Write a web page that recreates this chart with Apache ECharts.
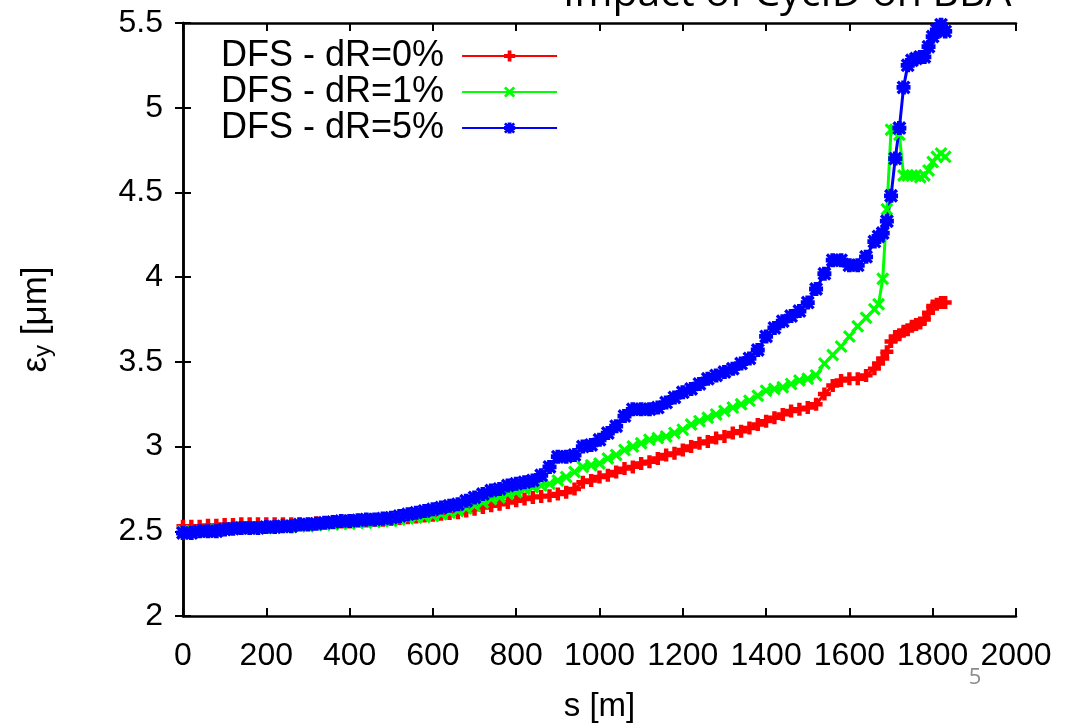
<!DOCTYPE html>
<html>
<head>
<meta charset="utf-8">
<script src="https://cdn.jsdelivr.net/npm/echarts@6/dist/echarts.min.js"></script>
<style>
html, body { margin: 0; padding: 0; background: #fff; }
#chart { width: 1073px; height: 728px; }
</style>
</head>
<body>
<div id="chart"></div>
<script>
// positions along the linac [m]
var sPos = [0, 20, 40, 60, 80, 100, 120, 140, 160, 180,
	200, 220, 240, 260, 280, 300, 320, 340, 360, 380,
	400, 420, 440, 460, 480, 500, 520, 540, 560, 580,
	600, 620, 640, 660, 680, 700, 720, 740, 760, 780,
	800, 820, 840, 860, 880, 900, 920, 940, 960, 980,
	1000, 1020, 1040, 1060, 1080, 1100, 1120, 1140, 1160, 1180,
	1200, 1220, 1240, 1260, 1280, 1300, 1320, 1340, 1360, 1380,
	1400, 1420, 1440, 1460, 1480, 1500, 1520, 1540, 1560, 1580,
	1600, 1620, 1640, 1660, 1670, 1680, 1690, 1700, 1710, 1720,
	1730, 1740, 1750, 1760, 1770, 1780, 1790, 1800, 1810, 1820, 1830];

// DFS - dR=0%
var emitR0 = [2.53, 2.53, 2.53, 2.535, 2.535, 2.54, 2.54, 2.545, 2.545, 2.545,
	2.545, 2.545, 2.545, 2.545, 2.545, 2.545, 2.55, 2.55, 2.55, 2.555,
	2.555, 2.56, 2.56, 2.565, 2.565, 2.57, 2.575, 2.58, 2.585, 2.59,
	2.595, 2.60, 2.605, 2.61, 2.62, 2.63, 2.64, 2.65, 2.66, 2.67,
	2.68, 2.69, 2.70, 2.705, 2.71, 2.72, 2.73, 2.75, 2.79, 2.80,
	2.82, 2.83, 2.85, 2.87, 2.88, 2.90, 2.91, 2.93, 2.95, 2.96,
	2.98, 3.00, 3.02, 3.03, 3.05, 3.06, 3.08, 3.09, 3.11, 3.13,
	3.15, 3.17, 3.19, 3.21, 3.22, 3.23, 3.25, 3.31, 3.36, 3.39,
	3.40, 3.40, 3.42, 3.46, 3.49, 3.52, 3.56, 3.62, 3.65, 3.66,
	3.68, 3.69, 3.71, 3.72, 3.73, 3.75, 3.79, 3.83, 3.84, 3.85, 3.85];

// DFS - dR=1%
var emitR1 = [2.50, 2.50, 2.50, 2.505, 2.51, 2.51, 2.515, 2.52, 2.52, 2.52,
	2.52, 2.52, 2.525, 2.525, 2.53, 2.53, 2.535, 2.54, 2.54, 2.545,
	2.545, 2.55, 2.55, 2.555, 2.56, 2.56, 2.57, 2.575, 2.58, 2.585,
	2.59, 2.60, 2.61, 2.62, 2.635, 2.65, 2.67, 2.69, 2.70, 2.72,
	2.73, 2.75, 2.76, 2.77, 2.78, 2.80, 2.82, 2.85, 2.88, 2.89,
	2.90, 2.93, 2.95, 2.98, 3.00, 3.02, 3.04, 3.05, 3.06, 3.08,
	3.10, 3.13, 3.15, 3.17, 3.19, 3.21, 3.23, 3.25, 3.27, 3.30,
	3.33, 3.34, 3.35, 3.37, 3.39, 3.40, 3.42, 3.49, 3.54, 3.59,
	3.65, 3.71, 3.76, 3.81, 3.84, 3.99, 4.40, 4.87, 4.87, 4.84,
	4.60, 4.60, 4.60, 4.60, 4.59, 4.60, 4.63, 4.68, 4.71, 4.73, 4.71];

// DFS - dR=5%
var emitR5 = [2.49, 2.49, 2.50, 2.50, 2.50, 2.51, 2.515, 2.52, 2.52, 2.52,
	2.525, 2.525, 2.53, 2.53, 2.54, 2.54, 2.545, 2.55, 2.555, 2.56,
	2.56, 2.565, 2.57, 2.57, 2.575, 2.58, 2.59, 2.60, 2.61, 2.62,
	2.63, 2.64, 2.65, 2.66, 2.68, 2.70, 2.72, 2.74, 2.75, 2.77,
	2.78, 2.79, 2.80, 2.83, 2.88, 2.94, 2.94, 2.95, 3.00, 3.01,
	3.04, 3.08, 3.12, 3.18, 3.22, 3.22, 3.22, 3.23, 3.26, 3.29,
	3.32, 3.34, 3.37, 3.40, 3.42, 3.44, 3.46, 3.49, 3.52, 3.57,
	3.65, 3.70, 3.74, 3.77, 3.80, 3.85, 3.93, 4.02, 4.10, 4.10,
	4.07, 4.07, 4.12, 4.21, 4.24, 4.26, 4.33, 4.48, 4.70, 4.88,
	5.12, 5.25, 5.28, 5.29, 5.30, 5.30, 5.36, 5.42, 5.46, 5.49, 5.45];

var seriesNames = ['DFS - dR=0%', 'DFS - dR=1%', 'DFS - dR=5%'];
var xTicks = [0, 2000, 200];
var yTicks = [2, 5.5, 0.5];

// gnuplot style point shapes
var PLUS = 'path://M3.3,0H6.7V3.3H10V6.7H6.7V10H3.3V6.7H0V3.3H3.3Z';
var CROSS = 'path://M0,1.7L1.7,0L5,3.3L8.3,0L10,1.7L6.7,5L10,8.3L8.3,10L5,6.7L1.7,10L0,8.3L3.3,5Z';
var STAR = 'path://M3.3,0H6.7V3.3H10V6.7H6.7V10H3.3V6.7H0V3.3H3.3Z' +
	'M0,1.7L1.7,0L5,3.3L8.3,0L10,1.7L6.7,5L10,8.3L8.3,10L5,6.7L1.7,10L0,8.3L3.3,5Z';

function pairs(ys) {
	var out = [];
	for (var i = 0; i < sPos.length; i++) {
		out.push([sPos[i], ys[i]]);
	}
	return out;
}

function makeSeries(name, ys, color, symbol, size) {
	return {
		name: name,
		type: 'line',
		data: pairs(ys),
		symbol: symbol,
		symbolSize: size,
		showAllSymbol: true,
		animation: false,
		lineStyle: { color: color, width: 3 },
		itemStyle: { color: color, borderWidth: 0 }
	};
}

var axisFont = 'Liberation Sans';
var frame = { show: true, lineStyle: { color: '#000', width: 2.5 } };
var tickIn = { show: true, inside: true, length: 8, lineStyle: { color: '#000', width: 2 } };

var myChart = echarts.init(document.getElementById('chart'));
myChart.setOption({
	backgroundColor: '#fff',
	animation: false,
	grid: {
		left: 183,
		right: 57,
		top: 23,
		bottom: 108
	},
	graphic: [
		{
			type: 'text',
			x: 563,
			y: 15,
			style: {
				text: 'Impact of CycID on BBA',
				font: '41px "Open Sans", sans-serif',
				fill: '#000',
				verticalAlign: 'bottom'
			}
		},
		{
			type: 'text',
			x: 975,
			y: 678,
			style: {
				text: '5',
				font: '22px "Open Sans", sans-serif',
				fill: '#8c8c8c',
				align: 'center',
				verticalAlign: 'middle'
			}
		}
	],
	legend: {
		orient: 'vertical',
		left: 216,
		top: 33,
		align: 'right',
		itemWidth: 95,
		itemHeight: 14,
		itemGap: 0,
		textStyle: {
			fontFamily: axisFont,
			fontSize: 36,
			lineHeight: 34,
			color: '#000',
			padding: [0, 13, 0, 0]
		},
		data: seriesNames
	},
	xAxis: [
		{
			type: 'value',
			min: xTicks[0],
			max: xTicks[1],
			interval: xTicks[2],
			name: 's [m]',
			nameLocation: 'middle',
			nameGap: 74,
			nameTextStyle: { fontFamily: axisFont, fontSize: 33, color: '#000' },
			axisLine: frame,
			axisTick: tickIn,
			axisLabel: {
				fontFamily: axisFont,
				fontSize: 32,
				color: '#000',
				margin: 24,
				formatter: function (v) { return String(v); }
			},
			splitLine: { show: false }
		},
		{
			type: 'value',
			position: 'top',
			min: xTicks[0],
			max: xTicks[1],
			interval: xTicks[2],
			axisLine: frame,
			axisTick: tickIn,
			axisLabel: { show: false },
			splitLine: { show: false }
		}
	],
	yAxis: [
		{
			type: 'value',
			min: yTicks[0],
			max: yTicks[1],
			interval: yTicks[2],
			name: '{e|ε}{s|y}{e| [μm]}',
			nameLocation: 'middle',
			nameGap: 128,
			nameRotate: 90,
			nameTextStyle: {
				rich: {
					e: { fontFamily: axisFont, fontSize: 35, color: '#000' },
					s: { fontFamily: axisFont, fontSize: 24, color: '#000', verticalAlign: 'bottom', padding: [14, 0, 0, 0] }
				}
			},
			axisLine: frame,
			axisTick: tickIn,
			axisLabel: { fontFamily: axisFont, fontSize: 32, color: '#000', margin: 20 },
			splitLine: { show: false }
		},
		{
			type: 'value',
			position: 'right',
			min: yTicks[0],
			max: yTicks[1],
			interval: yTicks[2],
			axisLine: frame,
			axisTick: tickIn,
			axisLabel: { show: false },
			splitLine: { show: false }
		}
	],
	series: [
		makeSeries(seriesNames[0], emitR0, '#ff0000', PLUS, 13),
		makeSeries(seriesNames[1], emitR1, '#00ff00', CROSS, 13),
		makeSeries(seriesNames[2], emitR5, '#0000ff', STAR, 14)
	]
});
</script>
</body>
</html>
